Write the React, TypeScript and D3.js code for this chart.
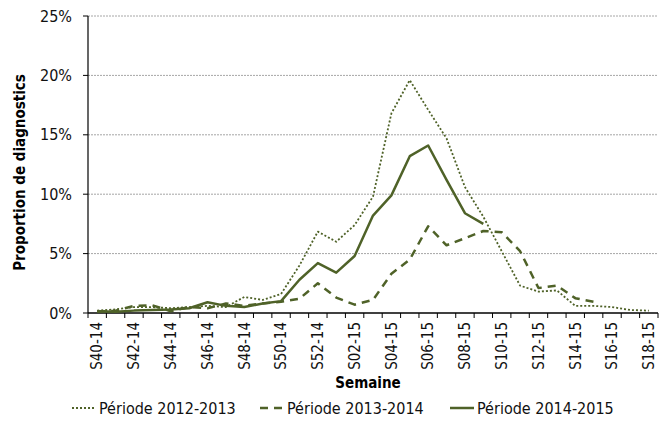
import React from "react";
import * as d3 from "d3";

const weeks: string[] = [
  "S40-14","S41-14","S42-14","S43-14","S44-14","S45-14","S46-14","S47-14","S48-14","S49-14","S50-14","S51-14","S52-14",
  "S01-15","S02-15","S03-15","S04-15","S05-15","S06-15","S07-15","S08-15","S09-15","S10-15","S11-15","S12-15","S13-15",
  "S14-15","S15-15","S16-15","S17-15","S18-15",
];
const tickLabels: string[] = weeks.filter((_, i) => i % 2 === 0);

const p1213: number[] = [0.2,0.3,0.5,0.5,0.4,0.5,0.6,0.5,1.35,1.1,1.6,4.0,6.85,6.0,7.4,9.8,16.8,19.6,17.1,14.7,10.6,8.1,5.2,2.3,1.8,1.9,0.6,0.6,0.5,0.25,0.2];
const p1314: number[] = [0.1,0.2,0.6,0.65,0.15,0.5,0.4,0.8,0.6,0.8,0.95,1.2,2.5,1.3,0.7,1.1,3.3,4.5,7.3,5.7,6.3,6.9,6.8,5.2,2.1,2.3,1.25,0.95];
const p1415: number[] = [0.15,0.1,0.2,0.25,0.3,0.4,0.9,0.6,0.5,0.8,1.0,2.8,4.2,3.4,4.8,8.2,9.9,13.2,14.1,11.2,8.4,7.5];
const yTicks: number[] = [0, 5, 10, 15, 20, 25];

const legendItems = [
  { label: "Période 2012-2013", dash: "2,2", width: 1.8 },
  { label: "Période 2013-2014", dash: "8,6", width: 2.5 },
  { label: "Période 2014-2015", dash: "none", width: 2.5 },
];

const W = 663, H = 421;
const left = 88, right = 658, top = 16, bottom = 313;
const color = "#4F6228";
const font = "'Liberation Sans Narrow', 'DejaVu Sans Condensed', 'Open Sans', sans-serif";

export default function App() {
  const x = d3.scaleBand<string>().domain(weeks).range([left, right]).padding(0);
  const cx = (i: number) => (x(weeks[i]) as number) + x.bandwidth() / 2;
  const y = d3.scaleLinear().domain([0, 25]).range([bottom, top]);
  const line = (arr: number[]) =>
    d3.line<number>().x((_, i) => cx(i)).y((d) => y(d))(arr) as string;

  const series = [
    { data: p1213, dash: "2,2", width: 1.8 },
    { data: p1314, dash: "8,6", width: 2.5 },
    { data: p1415, dash: "none", width: 2.5 },
  ];

  const boundaries = weeks.map((w) => x(w) as number).concat([right]);

  return (
    <svg width={W} height={H} style={{ position: "absolute", left: 0, top: 0 }} fontFamily={font}>
      <rect width={W} height={H} fill="#fff" />
      {yTicks.filter((t) => t > 0).map((t) => (
        <line key={"g" + t} x1={left} x2={right} y1={y(t)} y2={y(t)} stroke="#a6a6a6" strokeWidth={1} strokeDasharray="2,1" />
      ))}
      {yTicks.map((t) => (
        <g key={"y" + t}>
          <line x1={left - 5} x2={left} y1={y(t)} y2={y(t)} stroke="#000" />
          <text x={72} y={y(t)} dy="0.35em" textAnchor="end" fontSize={16} fill="#111">{t + "%"}</text>
        </g>
      ))}
      <line x1={left} x2={left} y1={top} y2={bottom} stroke="#000" strokeWidth={1.2} />
      <line x1={left} x2={right} y1={bottom} y2={bottom} stroke="#000" strokeWidth={1.5} />
      {boundaries.map((b, i) => (
        <line key={"xt" + i} x1={b} x2={b} y1={bottom} y2={bottom + 5} stroke="#000" />
      ))}
      {weeks.map((w, i) =>
        tickLabels.includes(w) ? (
          <text key={"xl" + w} transform={`translate(${cx(i)},${bottom + 9}) rotate(-90)`} dy="0.35em" textAnchor="end" fontSize={15} fill="#111">{w}</text>
        ) : null
      )}
      {series.map((s, k) => (
        <path key={"s" + k} d={line(s.data)} fill="none" stroke={color} strokeWidth={s.width} strokeDasharray={s.dash} strokeLinejoin="round" />
      ))}
      <text transform={`translate(20,${(top + bottom) / 2 + 8}) rotate(-90)`} textAnchor="middle" dy="0.35em" fontSize={15} fontWeight="bold" fill="#000">Proportion de diagnostics</text>
      <text x={368} y={383} textAnchor="middle" dy="0.35em" fontSize={15} fontWeight="bold" fill="#000">Semaine</text>
      {legendItems.map((l, i) => {
        const lx = [72, 260, 450][i];
        return (
          <g key={"l" + i}>
            <line x1={lx} x2={lx + 24} y1={408} y2={408} stroke={color} strokeWidth={l.width} strokeDasharray={l.dash} />
            <text x={lx + 27} y={408} dy="0.35em" fontSize={16} fill="#111">{l.label}</text>
          </g>
        );
      })}
    </svg>
  );
}
